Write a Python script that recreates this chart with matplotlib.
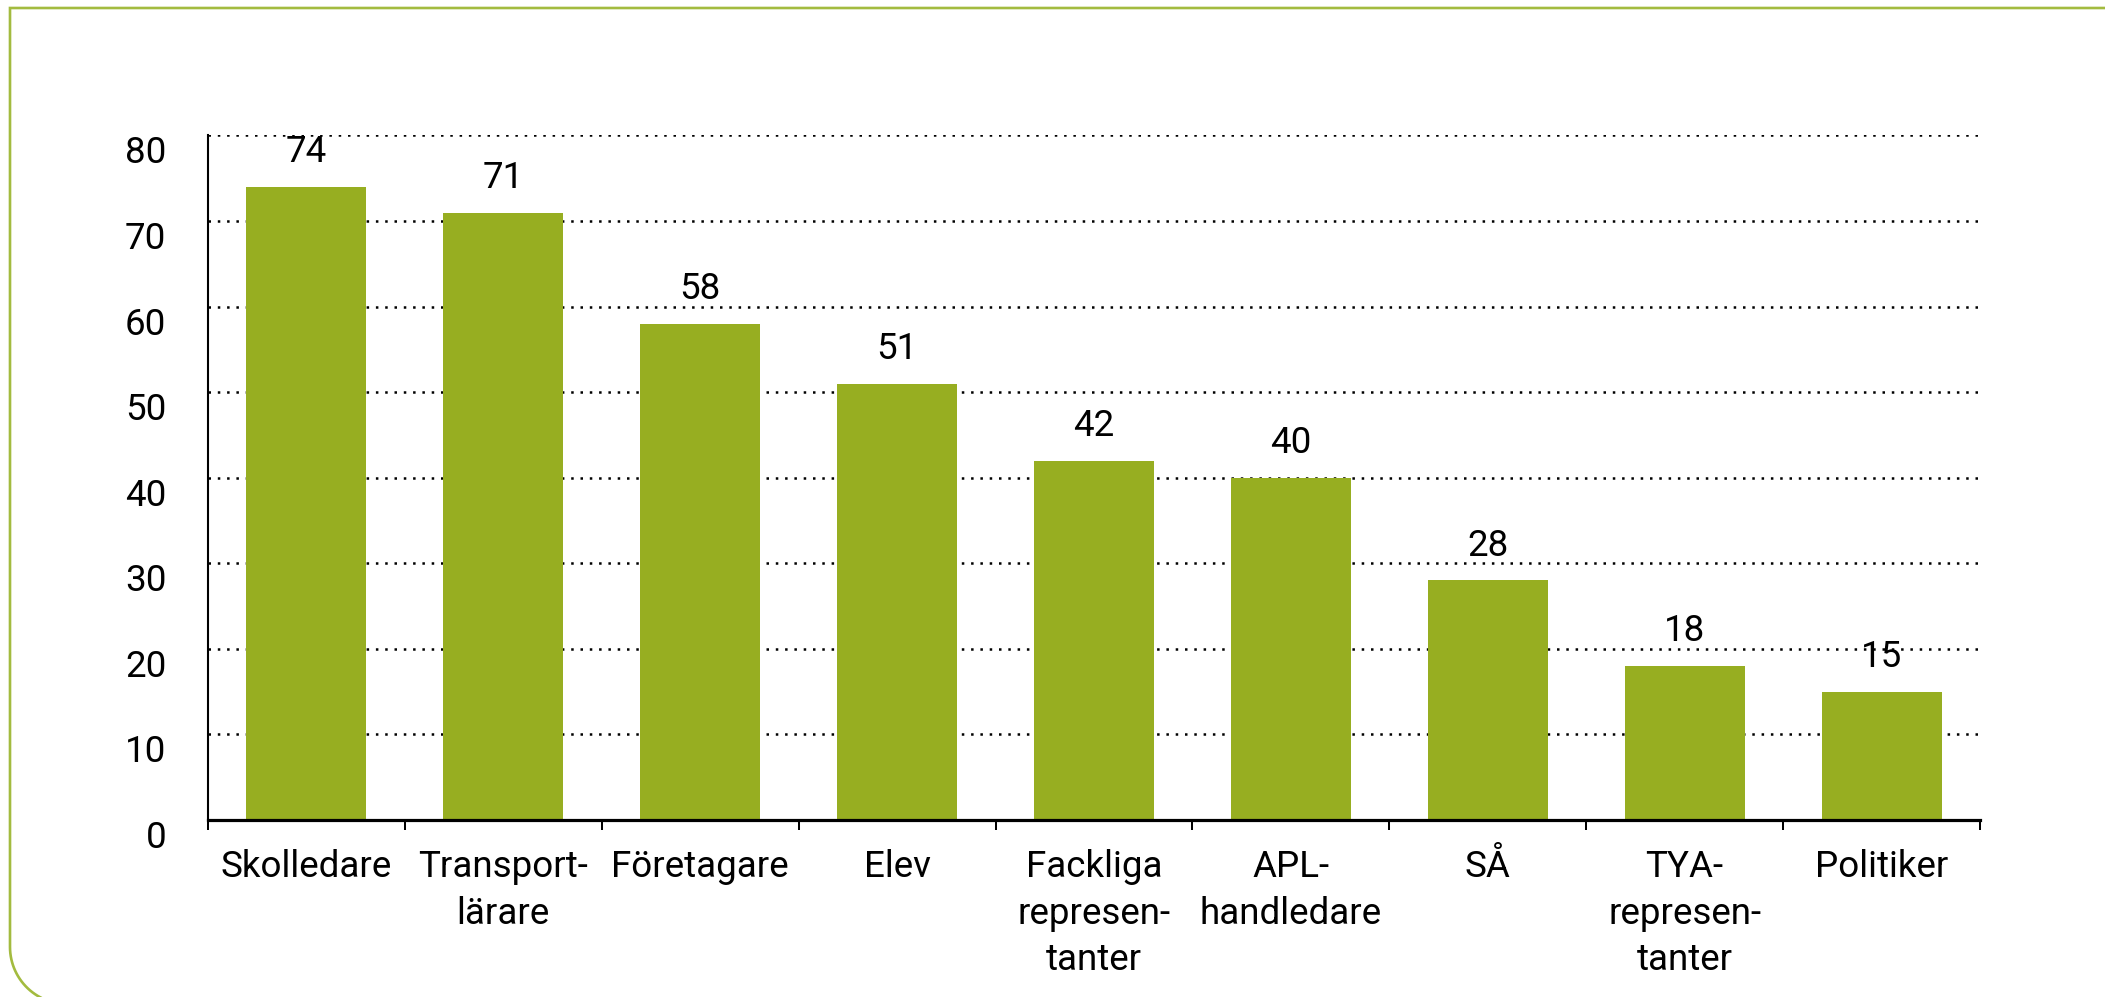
import matplotlib
matplotlib.use('Agg')
import matplotlib.pyplot as plt
from matplotlib.path import Path
from matplotlib.patches import PathPatch
import numpy as np

plt.rcParams['font.family'] = ['Roboto', 'DejaVu Sans']

# data
kategorier = ["Skolledare", "Transport-\nlärare", "Företagare", "Elev",
              "Fackliga\nrepresen-\ntanter", "APL-\nhandledare", "SÅ",
              "TYA-\nrepresen-\ntanter", "Politiker"]
andel = [74, 71, 58, 51, 42, 40, 28, 18, 15]
yticks = [0, 10, 20, 30, 40, 50, 60, 70, 80]

W, H = 2105, 997
fig = plt.figure(figsize=(W / 100, H / 100), dpi=100)
ax = fig.add_axes([208 / W, 1 - 820 / H, (1980 - 208) / W, (820 - 135.5) / H])

gron = '#97ae21'
x = np.arange(len(andel))
ax.bar(x, andel, width=0.61, color=gron, zorder=2)

for xi, v in zip(x, andel):
    ax.annotate(str(v), (xi, v), xytext=(0, 12), textcoords='offset points',
                ha='center', va='bottom', fontsize=26.5, color='black')

ax.set_xlim(-0.5, len(andel) - 0.5)
ax.set_ylim(0, 80)

# dotted gridlines
for t in yticks[1:]:
    ax.axhline(t, color='black', lw=1.8, linestyle=(0, (1, 2.72)), zorder=1)

ax.spines['top'].set_visible(False)
ax.spines['right'].set_visible(False)
ax.spines['left'].set_linewidth(1.5)
ax.spines['bottom'].set_linewidth(2.3)
ax.spines['bottom'].set_zorder(3)

ax.set_yticks(yticks)
ax.set_yticklabels([str(t) for t in yticks])
ax.tick_params(axis='y', length=0, pad=30, labelsize=26.5)
for lab in ax.get_yticklabels():
    lab.set_va('top')

# boundary ticks without labels, labels at bar centres
ax.set_xticks(np.arange(len(andel) + 1) - 0.5)
ax.set_xticklabels([])
ax.tick_params(axis='x', which='major', length=7.5, width=1.45, direction='out')
ax.set_xticks(x, minor=True)
ax.set_xticklabels(kategorier, minor=True, fontsize=26.5, linespacing=1.38)
ax.tick_params(axis='x', which='minor', length=0, pad=21)

# green frame with rounded lower left corner
r = 57
left, top, bottom = 10, H - 8, -7
th = np.linspace(np.pi, 1.5 * np.pi, 30)
pts = [(W + 20, top), (left, top), (left, bottom + r)]
pts += [(left + r + r * np.cos(t), bottom + r + r * np.sin(t)) for t in th]
pts += [(W + 20, bottom)]
pts = [(px / W, py / H) for px, py in pts]
ram = PathPatch(Path(pts), transform=fig.transFigure, fill=False,
                edgecolor='#a3bb3f', lw=1.9)
fig.add_artist(ram)

fig.savefig('out.png', dpi=100)
